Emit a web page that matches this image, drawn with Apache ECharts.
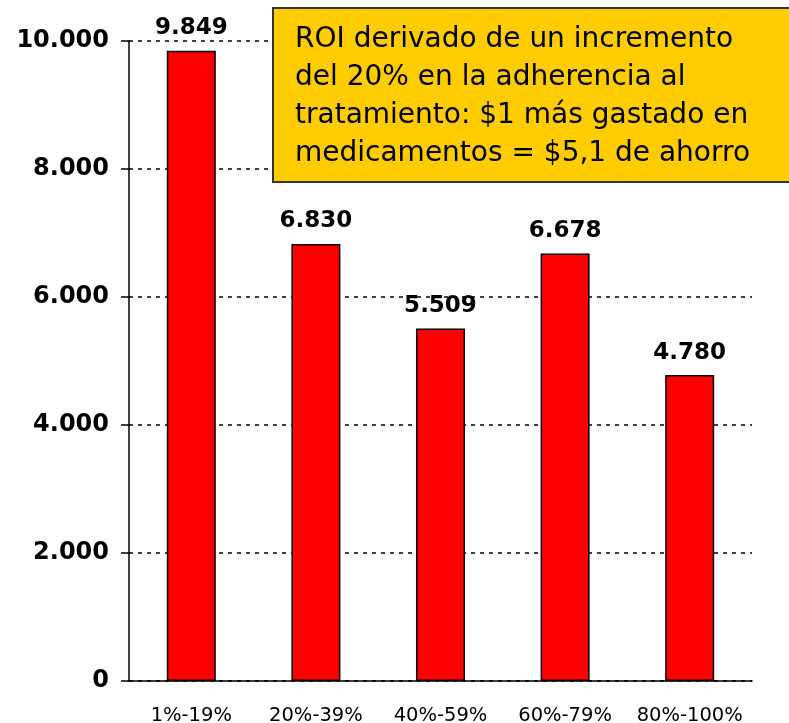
<!DOCTYPE html>
<html>
<head>
<meta charset="utf-8">
<script src="https://cdn.jsdelivr.net/npm/echarts@6/dist/echarts.min.js"></script>
<style>
  html, body { margin: 0; padding: 0; background: #fff; }
  #chart { width: 789px; height: 723px; }
</style>
</head>
<body>
<div id="chart"></div>
<script>
// data
const categories = ['1%-19%', '20%-39%', '40%-59%', '60%-79%', '80%-100%']
const savings = [9849, 6830, 5509, 6678, 4780]
const yTicks = { min: 0, max: 10000, interval: 2000 }
const noteLines = [
  'ROI derivado de un incremento',
  'del 20% en la adherencia al',
  'tratamiento: $1 más gastado en',
  'medicamentos = $5,1 de ahorro'
]

const fmt = v => String(v).replace(/\B(?=(\d{3})+(?!\d))/g, '.')
const font = 'DejaVu Sans'

const myChart = echarts.init(document.getElementById('chart'))
myChart.setOption({
  animation: false,
  grid: { left: 129, right: 37, top: 41, bottom: 42, outerBoundsMode: 'none' },
  xAxis: {
    type: 'category',
    data: categories,
    axisLine: { lineStyle: { color: '#000', width: 1.5 } },
    axisTick: { length: 8, lineStyle: { color: '#000', width: 1.5 } },
    axisLabel: { interval: 0, color: '#000', fontFamily: font, fontSize: 19.5, margin: 25 }
  },
  yAxis: {
    type: 'value',
    min: yTicks.min,
    max: yTicks.max,
    interval: yTicks.interval,
    axisLine: { show: true, lineStyle: { color: '#000', width: 1.5 } },
    axisTick: { show: true, length: 8, lineStyle: { color: '#000', width: 1.5 } },
    axisLabel: {
      color: '#000', fontFamily: font, fontWeight: 'bold', fontSize: 24, margin: 20,
      formatter: v => fmt(v)
    },
    splitLine: { show: true, lineStyle: { color: '#000', width: 1.5, type: [4, 5] } }
  },
  series: [{
    type: 'bar',
    data: savings,
    barWidth: 49,
    itemStyle: { color: '#ff0000', borderColor: '#000', borderWidth: 1.5 },
    label: {
      show: true,
      position: 'top',
      distance: 11,
      color: '#000',
      fontFamily: font,
      fontWeight: 'bold',
      fontSize: 23,
      formatter: p => fmt(p.value)
    }
  }],
  graphic: [{
    type: 'group',
    left: 272,
    top: 7,
    zlevel: 1,
    z: 100,
    children: [{
      type: 'rect',
      z: 100,
      shape: { x: 0, y: 0, width: 530, height: 174 },
      style: { fill: '#ffcc00', stroke: '#333', lineWidth: 2 }
    }, {
      type: 'text',
      z: 101,
      x: 22,
      y: 13,
      style: {
        text: noteLines.join('\n'),
        fill: '#000',
        font: '28px "' + font + '"',
        lineHeight: 38
      }
    }]
  }]
})
</script>
</body>
</html>
